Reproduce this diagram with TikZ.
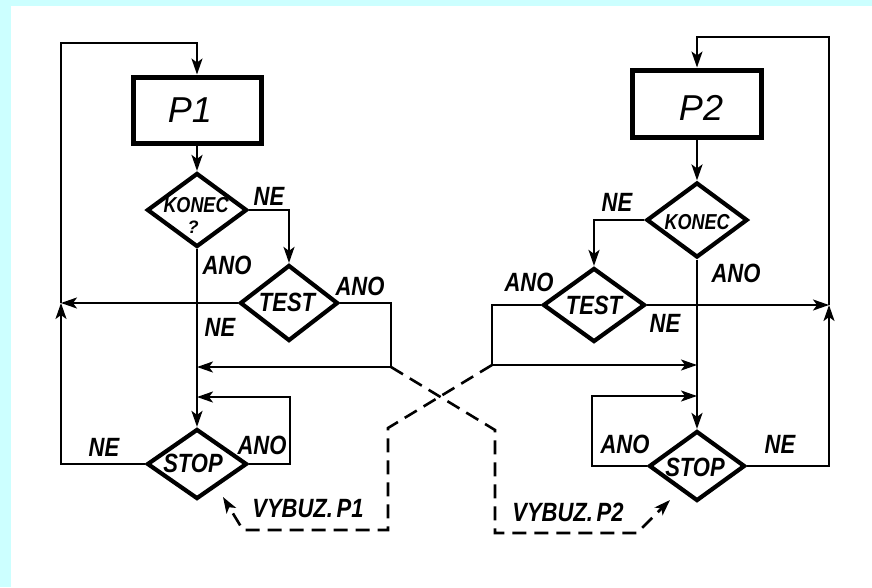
\documentclass[tikz,border=0pt]{standalone}
\usepackage{fontspec}
\setmainfont{Liberation Sans}
\usetikzlibrary{arrows.meta,shapes.geometric}
\definecolor{bgcyan}{RGB}{204,255,255}
\newcommand\tallt[1]{\scalebox{1}[1.2]{#1}}
\begin{document}
\begin{tikzpicture}[x=1pt,y=-1pt,
  conn/.style={line width=2.2pt},
  arr/.style={conn,-{Stealth[length=16pt,width=11pt,inset=4pt]}},
  dsh/.style={line width=2.6pt,dash pattern=on 14pt off 8pt},
  dsharr/.style={dsh,-{Stealth[length=16pt,width=11pt,inset=4pt]}},
  procbox/.style={draw,line width=5pt,inner sep=0},
  dia/.style={draw,diamond,line width=4.2pt,inner sep=0},
  lbl/.style={inner sep=0,font=\fontsize{22}{22}\selectfont\bfseries\itshape},
  intxt/.style={inner sep=0,font=\fontsize{22}{22}\selectfont\bfseries\itshape},
  big/.style={inner sep=0,font=\fontsize{36}{36}\selectfont\itshape}
]
\useasboundingbox (0,0) rectangle (872,587);
\fill[white] (0,0) rectangle (872,587);
\fill[bgcyan] (0,0) rectangle (11,587);
\fill[bgcyan] (0,0) rectangle (872,6);

% ---------- left process ----------
\node[procbox,minimum width=128pt,minimum height=66pt] (P1) at (197,110) {};
\node[big] at (190,110) {P1};
\node[dia,minimum width=100pt,minimum height=74pt] (K1) at (197,210) {};
\node[intxt,font=\fontsize{18}{18}\selectfont\bfseries\itshape] at (196,205) {\tallt{KONEC}};
\node[intxt,font=\fontsize{18}{18}\selectfont\bfseries\itshape] at (193,227) {?};
\node[dia,minimum width=98pt,minimum height=76pt] (T1) at (289,303) {};
\node[intxt] at (287,302) {\tallt{TEST}};
\node[dia,minimum width=100pt,minimum height=70pt] (S1) at (197,464) {};
\node[intxt] at (193,463) {\tallt{STOP}};

\coordinate (jl) at (61,303);
\coordinate (ltop) at (197,43);
\coordinate (t1c) at (391,367);
\coordinate (m1) at (197,367);
\coordinate (s1c) at (290,397);
\coordinate (m2) at (197,397);

\draw[arr] (P1.south) -- (K1.north);
\draw[arr] (K1.east) -| (T1.north);
\draw[arr] (K1.south) -- (S1.north);
\draw[arr] (T1.west) -- (jl);
\draw[arr] (S1.west) -| (jl);
\draw[arr] (jl) |- (ltop) -- (P1.north);
\draw[arr] (T1.east) -| (t1c) -- (m1);
\draw[arr] (S1.east) -| (s1c) -- (m2);

\node[lbl] at (269,196) {\tallt{NE}};
\node[lbl] at (227,265) {\tallt{ANO}};
\node[lbl] at (360,286) {\tallt{ANO}};
\node[lbl] at (220,327) {\tallt{NE}};
\node[lbl] at (104,447) {\tallt{NE}};
\node[lbl] at (262,445) {\tallt{ANO}};
\node[lbl] at (308,509) {\tallt{VYBUZ.\,P1}};

% ---------- right process ----------
\node[procbox,minimum width=129pt,minimum height=67pt] (P2) at (697,103.5) {};
\node[big] at (701,108) {P2};
\node[dia,minimum width=101pt,minimum height=75pt] (K2) at (697,220) {};
\node[intxt,font=\fontsize{18}{18}\selectfont\bfseries\itshape] at (697,222) {\tallt{KONEC}};
\node[dia,minimum width=102pt,minimum height=74pt] (T2) at (594,305) {};
\node[intxt] at (594,305) {\tallt{TEST}};
\node[dia,minimum width=96pt,minimum height=70pt] (S2) at (697,466) {};
\node[intxt] at (695,467) {\tallt{STOP}};

\coordinate (jr) at (829,305);
\coordinate (rtop) at (697,37);
\coordinate (t2c) at (492,365);
\coordinate (m3) at (697,365);
\coordinate (s2c) at (592,396);
\coordinate (m4) at (697,396);

\draw[arr] (P2.south) -- (K2.north);
\draw[arr] (K2.west) -| (T2.north);
\draw[arr] (K2.south) -- (S2.north);
\draw[arr] (T2.east) -- (jr);
\draw[arr] (S2.east) -| (jr);
\draw[arr] (jr) |- (rtop) -- (P2.north);
\draw[arr] (T2.west) -| (t2c) -- (m3);
\draw[arr] (S2.west) -| (s2c) -- (m4);

\node[lbl] at (617,202) {\tallt{NE}};
\node[lbl] at (736,273) {\tallt{ANO}};
\node[lbl] at (529,282) {\tallt{ANO}};
\node[lbl] at (665,323) {\tallt{NE}};
\node[lbl] at (625,444) {\tallt{ANO}};
\node[lbl] at (780,444) {\tallt{NE}};
\node[lbl] at (568,512) {\tallt{VYBUZ.\,P2}};

% ---------- dashed excitation lines ----------
\coordinate (d1b) at (495,430);
\coordinate (d1c) at (495,533);
\coordinate (d1d) at (637,533);
\coordinate (d1e) at (670,500);
\coordinate (d2b) at (388,428);
\coordinate (d2c) at (388,530);
\coordinate (d2d) at (243,530);
\coordinate (d2e) at (223,497);
\draw[dsharr] (t1c) -- (d1b) -- (d1c) -- (d1d) -- (d1e);
\draw[dsharr] (t2c) -- (d2b) -- (d2c) -- (d2d) -- (d2e);
\end{tikzpicture}
\end{document}
